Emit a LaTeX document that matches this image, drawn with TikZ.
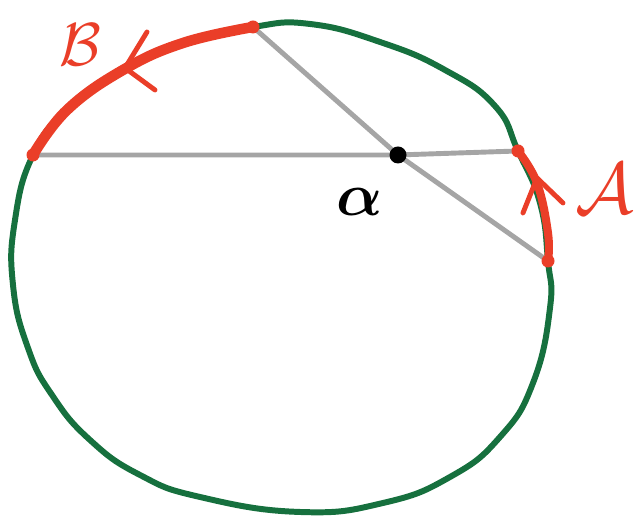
\documentclass[tikz,border=0pt]{standalone}
\definecolor{penred}{RGB}{234,62,40}
\definecolor{pengreen}{RGB}{22,112,62}
\definecolor{pengray}{RGB}{165,165,165}
\tikzset{
  chord/.style={pengray, line width=1.4pt, line cap=round},
  rim/.style={pengreen, line width=1.7pt},
  redarc/.style={penred, line cap=round, line join=round},
  barb/.style={penred, line width=1.4pt, line cap=round, line join=round},
  lab/.style={penred, inner sep=0pt}
}
\begin{document}
\begin{tikzpicture}
  \useasboundingbox (0,0) rectangle (6.35,5.18);

  % Points on the circle
  \coordinate (top) at (2.53,4.91);
  \coordinate (left) at (0.33,3.63);
  \coordinate (right) at (5.18,3.67);
  \coordinate (low) at (5.48,2.57);
  \coordinate (alpha) at (3.98,3.63);

  % Circle
  \draw[rim] plot[smooth cycle, tension=0.8]
    coordinates {(top) (3.10,4.94) (3.80,4.76) (4.45,4.48) (4.95,4.12)
      (right) (5.40,3.15) (low) (5.50,2.10) (5.33,1.35) (5.00,0.81)
      (4.50,0.41) (3.83,0.15) (3.00,0.06) (2.00,0.21) (1.40,0.43)
      (0.90,0.78) (0.52,1.23) (0.28,1.70) (0.13,2.33) (0.15,2.98)
      (left) (0.67,4.08) (1.23,4.48) (1.83,4.75)};

  % Chords through alpha
  \draw[chord] (left) -- (alpha) -- (right);
  \draw[chord] (top) -- (alpha) -- (low);

  % Arc B
  \draw[redarc, line width=3pt] plot[smooth, tension=0.7]
    coordinates {(top) (1.83,4.75) (1.23,4.48) (0.67,4.08) (left)};
  \coordinate (tipB) at (1.25,4.50);
  \draw[barb] (1.47,4.86) -- (tipB) -- (1.55,4.28);

  % Arc A
  \draw[redarc, line width=2.3pt] plot[smooth, tension=0.7]
    coordinates {(right) (5.37,3.35) (5.48,2.85) (low)};
  \coordinate (tipA) at (5.37,3.40);
  \draw[barb] (5.23,3.05) -- (tipA) -- (5.63,3.15);

  \fill[penred] (top) circle (0.065);
  \fill[penred] (left) circle (0.065);
  \fill[penred] (right) circle (0.065);
  \fill[penred] (low) circle (0.065);
  \fill (alpha) circle (0.085);

  % Labels
  \node[lab, font=\fontsize{19}{22}\selectfont] (labB) at (0.80,4.73) {$\mathcal{B}$};
  \node[lab, font=\fontsize{21}{24}\selectfont] (labA) at (6.05,3.29) {$\mathcal{A}$};
  \node[inner sep=0pt, font=\fontsize{17}{20}\selectfont\boldmath] (labAlpha) at (3.60,3.16) {$\alpha$};
\end{tikzpicture}
\end{document}
